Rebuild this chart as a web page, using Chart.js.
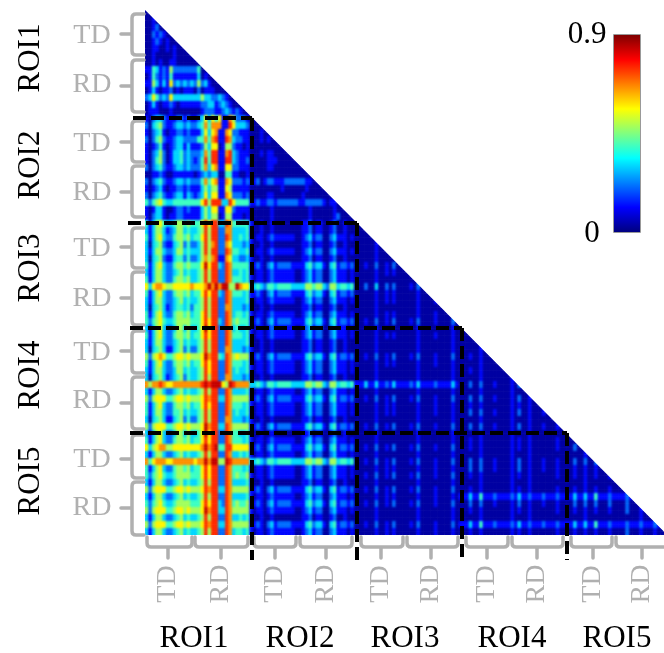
<!DOCTYPE html>
<html><head><meta charset="utf-8">
<style>html,body{margin:0;padding:0;background:#fff}canvas{display:block}</style>
<script src="https://cdn.jsdelivr.net/npm/chart.js@4"></script></head>
<body><canvas id="c" width="664" height="653"></canvas>
<script>
// Each row covers two fine rows; each digit is one fine column. Digit d means about 0.03 + 0.09*d.
const roi1Rows = [
"00","0010","001200","00212100","0012101000","001100101000","00100000100000","0010100110000000",
"114312152222222400","01421214111111130100","1153131623232325231000","013101120101110201110000",
"23642326333333335332232100","0131011210111111223312321000","011100010000000012221123212100"
];
const roi2Rows = [
"102332111221211236364611752221 00",
"203452112332322347477711863332 0000",
"102341011221211136367117622111 000100",
"202452112332222447478118732211 00010100",
"101241012331311125366015521101 0000000000",
"102352013342322237488117832111 000101100000",
"102452013342321248488118832112 00000111000000",
"202342112332322247367116622111 0000011000000000",
"001121001111110123233004411001 000000000000000000",
"202342112332322247467117622212 11201221112222221100",
"101231011221211135355116511111 0000000001000000100000",
"202342112331321236366117622212 000001100000000100000000",
"424564334444444468588833864444 11211221222222112222210110",
"101331001221211135366116621111 0000001000000000010000001000",
"102331011221111135355015511101 000000100000000001000000120000"
];
const roi3Rows = [
"413564334554544468688338744444 100100100000000112011001200100 00",
"313553123553433458588227733334 100100100000000112011001200100 0000",
"413563224554534468588228733434 101101211111100123122002311101 000000",
"303452113452422358578227633323 100100100000000112011001200100 00000010",
"313553223553433358588228744334 101101211111100123122002311101 0000001000",
"303452113442422357578117633223 100100100000000112011001200100 000000100000",
"413563224554544469688328744444 112102312222111134233103412212 00010020010200",
"313553223453433458588228733434 101101211111100123122002311101 0000001001010000",
"413553224554533458588228744434 101101211111100123122002311101 000000100000000000",
"636776556666676667979799559766 334324434444333355455325534434 00020030020200001020",
"413563224554534468688328744434 112102312222111134233103412212 0000001001010000001000",
"313553223453433458588228733334 101101211111100123122002311101 000000100101000000100001",
"303453123443424458588227733323 100100100000000112011001200100 00000010000000000010000000",
"413563224554534468588228734434 101101211111100123122002311101 0000001001010000001000010000",
"424564334555544468688328745444 112102312222111134233103412212 000100200102000010200001000020"
];
const roi4Rows = [
"313563223553533469688228734334 101101211111100123122002311101 000000100000000000100000000010 00",
"413563224554534468688228744434 101101211111100123122002311101 000000100101000000100001000010 0000",
"313553223453433458588228733334 100100100000000112011001200100 000000100000000000100000000010 000000",
"303453113452422458588227733323 100100100000000112011001200100 000000100000000000100000000010 00000010",
"525676445665655569788438756555 112102312222111134233103412212 000100200102000010200001000020 0001001000",
"413563224554534468688228744434 101101211111100123122002311101 000000100101000000100001000010 000000100000",
"313553223553433458688228734334 101101211111100123122002311101 000000100000000000100000000010 00010010000000",
"303453123452433458588227733323 100100100000000112011001200100 000000100000000000100000000010 0000001000000001",
"757787667777777789899965987777 334324434444333355455325534434 111311311213111121311112111131 000200200010000102",
"313553223453433458588228733334 101101211111100123122002311101 000000100000000000100000000010 00000010000000010000",
"525666445665655568788338755555 112102312222111134233103412212 000100200102000010200001000020 0002002000100001020010",
"413563224554534468688228744434 101101211111100123122002311101 000000100101000000100001000010 000100100000000101001000",
"413553224453433458588228734334 101101211111100123122002311101 000000100101000000100001000010 00020020001000010200100010",
"303453113452422458588227733323 100100100000000112011001200100 000000100000000000100000000010 0000001000000001000010000000",
"525666445665655569788338755555 112102312222111134233103412212 000100200102000010200001000020 000200200010000102001000100010"
];
const roi5Rows = [
"313563223553533469688228744334 100100100000000112011001200100 000000100000000000100000000010 000000100000000100001000000000 00",
"413563224554534468688228744434 101101211111100123122002311101 000000100000000000100000000010 000100100000000101001000000010 0000",
"635677556666666679789448866666 112102312222111134233103412212 000100200102000010200001000020 000100100000000101001000000010 000200",
"313553223453433458588228733434 101101211111100123122002311101 000000100000000000100000000010 000000100000000100001000000000 00000010",
"746777667777776779799559877777 334324434444333355455325534434 000100200102000010200001000020 000200200010000102001000100010 0002002002",
"413563224554534468688228744434 101101211111100123122002311101 000000100101000000100001000010 000200200010000102001000100010 000100100100",
"424564334555544468688228745445 101101211111100123122002311101 000100200102000010200001000020 000100100000000101001000000010 00010010010001",
"313553223453433458588228733334 100100100000000112011001200100 000000100000000000100000000010 000000100000000100001000000000 0000001000000000",
"525666445665655568788338755555 112102312222111134233103412212 000100200102000010200001000020 000100100000000101001000000010 000100100100010000",
"313553223453433458588228733334 101101211111100123122002311101 000000100101000000100001000010 111311411121111213112111211121 11131131141112111121",
"424564334555544468688328745445 112102312222111134233103412212 000100200102000010200001000020 000200200010000102001000100010 0002002002000200002000",
"525666445665655569788338755555 101101211111100123122002311101 000000100000000000100000000010 000100100000000101001000000010 000100100100010000200010",
"313553223453433458588228733434 100100100000000112011001200100 000000100000000000100000000010 000000100000000100001000000000 00000010000000000000001000",
"525666445665655568788338755555 112102312222111134233103412212 000100200102000010200001000020 111311411121111213112111211121 1113113114111211112111211121",
"313553223453433458588228734434 101101211111100123122002311101 000000100101000000100001000010 000100100000000101001000000010 000100100100010000200010001000"
];
const roiNames = ["ROI1","ROI2","ROI3","ROI4","ROI5"];
const groupNames = ["TD","RD"];
const barTicks = ["0.9","0"];

const rows = [...roi1Rows, ...roi2Rows, ...roi3Rows, ...roi4Rows, ...roi5Rows].map(s => s.replace(/ /g, ""));

function jet(f){
  const c = v => Math.round(255*Math.max(0,Math.min(1,v)));
  return `rgb(${c(1.5-Math.abs(4*f-3))},${c(1.5-Math.abs(4*f-2))},${c(1.5-Math.abs(4*f-1))})`;
}
const points = [], colors = [];
rows.forEach((s, r) => {
  for (let fine = 0; fine < 2; fine++) {
    for (let c = 0; c < 2*(r+1)+2 && c < 150; c++) {
      const d = c < s.length ? +s[c] : 0;
      points.push({x: c + .5, y: 2*r + fine + .5});
      colors.push(jet((0.03 + 0.09*d)/0.9));
    }
  }
});

const GRAY = "#b0b0b0", SERIF = '"Liberation Serif","Times New Roman",serif';
const leftBr = [[14,55,34],[60,112,86],[121,162,142],[166,217,192],[228,268,247],[272,325,298],[331,373,351],[377,429,403],[435,478,459],[482,535,508]];
const botBr = [[147,192,168],[195,248,221],[254,296,275],[300,352,326],[361,403,381],[407,458,431],[466,508,487],[512,563,537],[571,612,593],[616,668,642]];
const leftLab = [36,85,144,193,249,299,353,401,460,508];
const roiLeft = [58,165,268,375,481], roiBot = [194,300,405,512,617];
const hDash = [[133,252,118],[128,357,223],[130,462,328],[130,567,433]];
const vDash = [[252,118],[357,223],[462,328],[567,433]];

const overlay = {
  id: "overlay",
  beforeDatasetsDraw(chart){
    const {ctx, scales:{x,y}} = chart;
    ctx.save();
    ctx.beginPath();
    ctx.moveTo(x.getPixelForValue(0), y.getPixelForValue(0));
    ctx.lineTo(x.getPixelForValue(150), y.getPixelForValue(150));
    ctx.lineTo(x.getPixelForValue(0), y.getPixelForValue(150));
    ctx.closePath();
    ctx.clip();
  },
  afterDatasetsDraw(chart){
    const {ctx} = chart;
    ctx.filter = "blur(0.9px)";
    ctx.drawImage(chart.canvas, 0, 0);
    ctx.filter = "none";
    ctx.restore();
    ctx.save();
    // bracket lines
    ctx.strokeStyle = GRAY; ctx.lineWidth = 3.5; ctx.lineJoin = "round"; ctx.lineCap = "round";
    leftBr.forEach(([a,b,m]) => {
      ctx.beginPath();
      ctx.moveTo(144,a); ctx.lineTo(136,a); ctx.quadraticCurveTo(132,a,132,a+4);
      ctx.lineTo(132,b-4); ctx.quadraticCurveTo(132,b,136,b); ctx.lineTo(144,b);
      ctx.moveTo(121,m); ctx.lineTo(132,m);
      ctx.stroke();
    });
    botBr.forEach(([a,b,m]) => {
      ctx.beginPath();
      ctx.moveTo(a,537); ctx.lineTo(a,543); ctx.quadraticCurveTo(a,547,a+4,547);
      ctx.lineTo(b-4,547); ctx.quadraticCurveTo(b,547,b,543); ctx.lineTo(b,537);
      ctx.moveTo(m,547); ctx.lineTo(m,558);
      ctx.stroke();
    });
    // dashed ROI borders
    ctx.strokeStyle = "#000"; ctx.lineWidth = 4; ctx.lineCap = "butt"; ctx.setLineDash([13,5]);
    hDash.forEach(([a,b,yy]) => { ctx.beginPath(); ctx.moveTo(a,yy); ctx.lineTo(b,yy); ctx.stroke(); });
    vDash.forEach(([xx,a]) => { ctx.beginPath(); ctx.moveTo(xx,a); ctx.lineTo(xx,560); ctx.stroke(); });
    ctx.setLineDash([]);
    // colour bar
    const g = ctx.createLinearGradient(0,232,0,35);
    for (let i = 0; i <= 40; i++) g.addColorStop(i/40, jet(i/40));
    ctx.fillStyle = g; ctx.fillRect(614,35,26,197);
    ctx.strokeStyle = "#999"; ctx.lineWidth = 1; ctx.strokeRect(613.5,34.5,27,198);
    // text
    ctx.textAlign = "center"; ctx.textBaseline = "middle";
    ctx.font = `28px ${SERIF}`; ctx.fillStyle = GRAY;
    leftLab.forEach((yy,i) => ctx.fillText(groupNames[i%2], 92, yy));
    botBr.forEach(([,,m],i) => {
      ctx.save(); ctx.translate(m,584); ctx.rotate(-Math.PI/2);
      ctx.fillText(groupNames[i%2],0,0); ctx.restore();
    });
    ctx.font = `31px ${SERIF}`; ctx.fillStyle = "#000"; ctx.textBaseline = "alphabetic";
    roiBot.forEach((xx,i) => ctx.fillText(roiNames[i], xx, 647));
    roiLeft.forEach((yy,i) => {
      ctx.save(); ctx.translate(39,yy); ctx.rotate(-Math.PI/2);
      ctx.fillText(roiNames[i],0,0); ctx.restore();
    });
    ctx.fillText(barTicks[0], 587, 43);
    ctx.fillText(barTicks[1], 592, 242);
    ctx.restore();
  }
};

new Chart(document.getElementById("c"), {
  type: "scatter",
  data: { datasets: [{ data: points, pointStyle: "rect", pointRadius: 2.6, pointHoverRadius: 2.6,
    pointBorderWidth: 0, pointBackgroundColor: colors, showLine: false, clip: false }] },
  options: {
    responsive: false, animation: false, parsing: false, events: [],
    layout: { padding: { left: 145, top: 10, right: 0, bottom: 118 } },
    plugins: { legend: {display:false}, tooltip: {enabled:false} },
    scales: {
      x: { type:"linear", display:false, min:0, max:148.29 },
      y: { type:"linear", display:false, min:0, max:150, reverse:true }
    }
  },
  plugins: [overlay]
});
</script></body></html>
